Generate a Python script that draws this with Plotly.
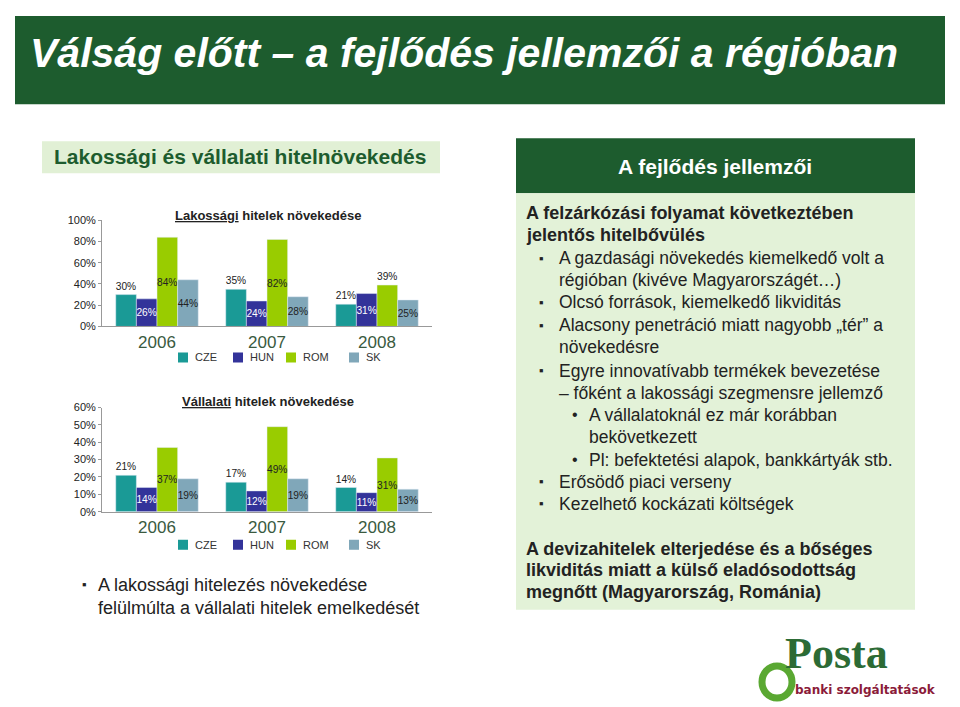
import plotly.graph_objects as go
from plotly.subplots import make_subplots

# adatok
years = ['2006', '2007', '2008']
countries = ['CZE', 'HUN', 'ROM', 'SK']
colors = ['#1a9a96', '#33339a', '#99cc00', '#80a7b9']
lakossagi = {'CZE': [30, 35, 21], 'HUN': [26, 24, 31], 'ROM': [84, 82, 39], 'SK': [44, 28, 25]}
vallalati = {'CZE': [21, 17, 14], 'HUN': [14, 12, 11], 'ROM': [37, 49, 31], 'SK': [19, 19, 13]}

W, H = 960, 707
# pixel -> paper (the page shifts the figure a bit)
def px(x): return (x - 8) / W
def py(y): return 1 - (y - 13) / 694

fig = make_subplots(rows=2, cols=1)

label_pos = {'CZE': ['outside'] * 3, 'HUN': ['inside'] * 3,
             'ROM': ['inside', 'inside', 'outside'], 'SK': ['inside'] * 3}
label_col = {'CZE': '#222', 'HUN': 'white', 'ROM': '#222', 'SK': '#222'}

for row, data in [(1, lakossagi), (2, vallalati)]:
    for c, col in zip(countries, colors):
        pos = label_pos[c] if row == 1 else (['outside'] * 3 if c == 'CZE' else ['inside'] * 3)
        fig.add_trace(go.Bar(
            x=years, y=data[c], name=c, marker_color=col,
            text=[f'{v}%' for v in data[c]], textposition=pos,
            insidetextanchor='middle', textangle=0,
            textfont=dict(size=11, color=label_col[c], family='Arial'),
            outsidetextfont=dict(size=11, color='#222', family='Arial'),
            cliponaxis=False, showlegend=False), row=row, col=1)

fig.update_xaxes(showgrid=False, tickfont=dict(size=17, color='#3a5a40', family='Arial'),
                 showline=True, linecolor='#999', ticks='', ticklabelstandoff=0,
                 domain=[px(102), px(432)])
fig.update_yaxes(showgrid=False, showline=True, linecolor='#999', ticks='outside', ticklen=3,
                 tickcolor='#999', ticksuffix='%', tickfont=dict(size=11, color='#222', family='Arial'))
fig.update_yaxes(domain=[py(325), py(219)], range=[0, 100], dtick=20, row=1, col=1)
fig.update_yaxes(domain=[py(510), py(406)], range=[0, 60], dtick=10, row=2, col=1)

def box(x0, x1, y0, y1, color):
    return dict(type='rect', xref='paper', yref='paper', x0=px(x0), x1=px(x1), y0=py(y1), y1=py(y0),
                fillcolor=color, line_width=0, layer='below')

shapes = [
    box(15, 945, 15, 103, '#1d5c2e'),
    box(42, 440, 140, 172, '#e1f0d5'),
    box(516, 915, 137, 192, '#1d5c2e'),
    box(516, 915, 192, 608, '#e3f2d8'),
]
ann = []
def text(x, y, s, size=15, color='#222', bold=False, xanchor='left', family='Arial'):
    if bold:
        s = f'<b>{s}</b>'
    ann.append(dict(x=px(x), y=py(y), xref='paper', yref='paper', text=s, showarrow=False,
                    xanchor=xanchor, yanchor='middle', font=dict(size=size, color=color, family=family)))

text(28, 52, '<i>Válság előtt – a fejlődés jellemzői a régióban</i>', size=41, color='white', bold=True)
text(52, 155, 'Lakossági és vállalati hitelnövekedés', size=21, color='#1d5c2e', bold=True)
text(715, 165, 'A fejlődés jellemzői', size=21, color='white', bold=True, xanchor='center')

text(268, 214, '<u>Lakossági</u> hitelek növekedése', size=13, bold=True, xanchor='center')
text(268, 400, '<u>Vállalati</u> hitelek növekedése', size=13, bold=True, xanchor='center')

# jelmagyarázat
for ly in (356, 543):
    lx = 178
    for c, col, w in zip(countries, colors, [55, 53, 63, 40]):
        shapes.append(dict(type='rect', xref='paper', yref='paper', x0=px(lx), x1=px(lx + 10),
                           y0=py(ly + 5), y1=py(ly - 5), fillcolor=col, line_width=0))
        text(lx + 15, ly, c, size=11, color='#333')
        lx += w

text(80, 583, '▪', size=13)
text(96, 583, 'A lakossági hitelezés növekedése', size=18)
text(96, 606, 'felülmúlta a vállalati hitelek emelkedését', size=18)

lines = [
    (524, 212, 'A felzárkózási folyamat következtében', True, None),
    (524, 234, 'jelentős hitelbővülés', True, None),
    (557, 257, 'A gazdasági növekedés kiemelkedő volt a', False, '▪'),
    (557, 279, 'régióban (kivéve Magyarországét…)', False, None),
    (557, 301, 'Olcsó források, kiemelkedő likviditás', False, '▪'),
    (557, 324, 'Alacsony penetráció miatt nagyobb „tér” a', False, '▪'),
    (557, 346, 'növekedésre', False, None),
    (557, 369, 'Egyre innovatívabb termékek bevezetése', False, '▪'),
    (557, 391, '– főként a lakossági szegmensre jellemző', False, None),
    (587, 413, 'A vállalatoknál ez már korábban', False, '•'),
    (587, 435, 'bekövetkezett', False, None),
    (587, 458, 'Pl: befektetési alapok, bankkártyák stb.', False, '•'),
    (557, 480, 'Erősödő piaci verseny', False, '▪'),
    (557, 502, 'Kezelhető kockázati költségek', False, '▪'),
    (524, 547, 'A devizahitelek elterjedése és a bőséges', True, None),
    (524, 568, 'likviditás miatt a külső eladósodottság', True, None),
    (524, 590, 'megnőtt (Magyarország, Románia)', True, None),
]
for x, y, s, b, bullet in lines:
    text(x, y, s, size=18 if b else 17.5, bold=b)
    if bullet:
        text(x - (20 if bullet == '▪' else 17), y, bullet, size=13 if bullet == '▪' else 16)

# logo
shapes.append(dict(type='circle', xref='paper', yref='paper', x0=px(762), x1=px(792),
                   y0=py(696), y1=py(664), line=dict(color='#5aa832', width=7)))
text(783, 652, 'Posta', size=44, color='#2c6b35', bold=True, family='Liberation Serif')
text(793, 688, 'banki szolgáltatások', size=12, color='#8b1c3a', bold=True, family='DejaVu Sans')

fig.update_layout(width=W, height=H, margin=dict(l=0, r=0, t=0, b=0), barmode='group',
                  bargap=0.25, bargroupgap=0, plot_bgcolor='white', paper_bgcolor='white',
                  shapes=shapes, annotations=ann, uniformtext=dict(minsize=8, mode='show'))
fig.write_html('out.html')
